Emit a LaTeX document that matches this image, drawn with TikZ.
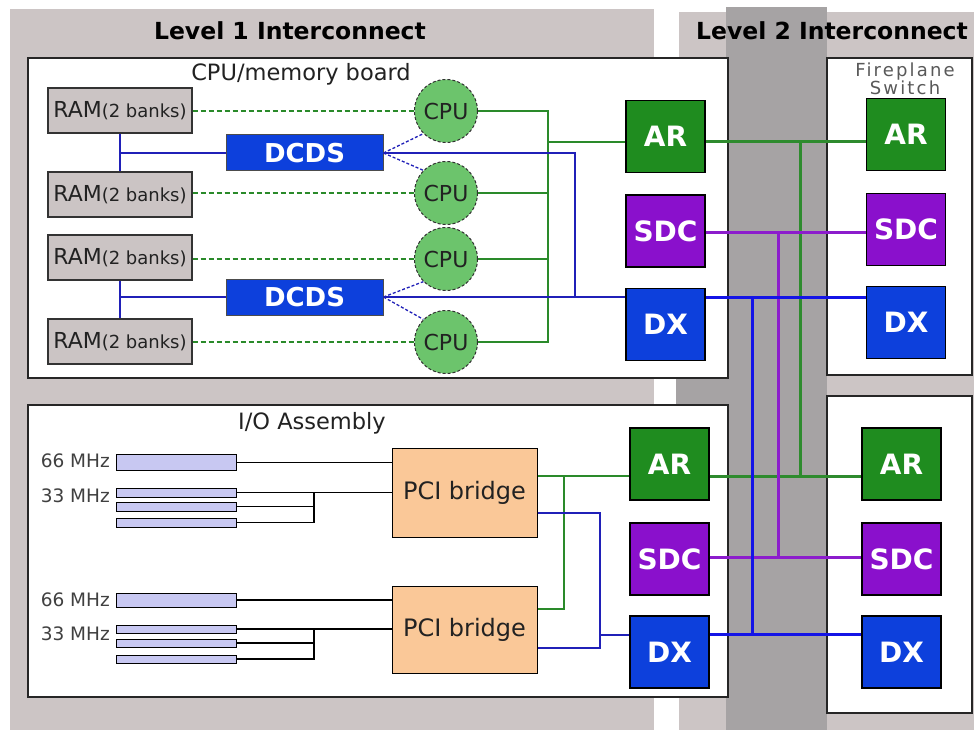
\documentclass[tikz,border=0pt]{standalone}
\usepackage{fontspec}
\setmainfont{DejaVu Sans}
\newfontfamily\spacedfont[LetterSpace=12]{DejaVu Sans}
\newcommand\fsz[1]{\fontsize{#1}{#1}\selectfont}
\definecolor{bglight}{HTML}{CCC5C5}
\definecolor{bgdark}{HTML}{A6A3A4}
\definecolor{argreen}{HTML}{1F8C1F}
\definecolor{sdcpurple}{HTML}{8A10CC}
\definecolor{dxblue}{HTML}{0D40DC}
\definecolor{ramgrey}{HTML}{CBC4C4}
\definecolor{cpugreen}{HTML}{6CC46C}
\definecolor{slotblue}{HTML}{C8C8F2}
\definecolor{pcipeach}{HTML}{FAC898}
\definecolor{lgreen}{HTML}{2A8A2A}
\definecolor{lblue}{HTML}{2020B8}
\definecolor{tgreen}{HTML}{2E8B2E}
\definecolor{tpurple}{HTML}{8C1CCC}
\definecolor{tblue}{HTML}{1414E6}
\definecolor{txtgrey}{HTML}{222222}
\begin{document}
\begin{tikzpicture}[x=1pt,y=-1pt,
  unitbox/.style={draw=black, line width=1.2pt, minimum width=79pt, minimum height=72pt, inner sep=0pt, text=white, font=\bfseries\fsz{28}},
  arbox/.style={unitbox, fill=argreen},
  sdcbox/.style={unitbox, fill=sdcpurple},
  dxbox/.style={unitbox, fill=dxblue},
  rambox/.style={draw=black!80, line width=1.2pt, fill=ramgrey, minimum width=144pt, minimum height=45pt, inner sep=0pt, text=txtgrey, font=\fsz{22}},
  cpunode/.style={circle, draw=black!80, dash pattern=on 3pt off 2pt, line width=1pt, fill=cpugreen, minimum size=63pt, inner sep=0pt, text=txtgrey, font=\fsz{22}},
  dcdsbox/.style={draw=black!70, line width=1pt, fill=dxblue, minimum width=157pt, minimum height=36pt, inner sep=0pt, text=white, font=\bfseries\fsz{26}},
  slot/.style={draw=black, line width=1pt, fill=slotblue, minimum width=120pt, inner sep=0pt},
  pcibox/.style={draw=black, line width=1pt, fill=pcipeach, minimum width=145pt, inner sep=0pt, text=txtgrey, font=\fsz{24}},
  panel/.style={draw=black!85, line width=1.2pt, fill=white, inner sep=0pt},
  mhz/.style={anchor=east, text=black!75, font=\fsz{18.5}, inner sep=0pt},
  gline/.style={draw=lgreen, line width=1.3pt},
  bline/.style={draw=lblue, line width=1.3pt},
  kline/.style={draw=black, line width=1.3pt},
  tgline/.style={draw=tgreen, line width=3pt},
  tpline/.style={draw=tpurple, line width=3pt},
  tbline/.style={draw=tblue, line width=3pt}]
\useasboundingbox (0,0) rectangle (974,730);
\fill[white] (0,0) rectangle (974,730);
% backgrounds
\fill[bglight] (10,9) rectangle (654,730);
\fill[bglight] (679,12) rectangle (974,730);
\fill[bgdark] (676,58) rectangle (727,697);
\fill[bgdark] (726,7) rectangle (827,730);
\node[font=\bfseries\fsz{23.5}] (l1title) at (290,31) {Level 1 Interconnect};
\node[font=\bfseries\fsz{23.5}] (l2title) at (832,31) {Level 2 Interconnect};
% panels
\node[panel, minimum width=700pt, minimum height=320pt] (cpuboard) at (378,218) {};
\node[panel, minimum width=700pt, minimum height=292pt] (ioboard) at (378,551) {};
\node[panel, minimum width=145pt, minimum height=317pt] (sw1) at (899.5,216.5) {};
\node[panel, minimum width=145pt, minimum height=317pt] (sw2) at (899.5,554.5) {};
\node[font=\fsz{22.5}, text=txtgrey] (cpulbl) at (301,74) {CPU/memory board};
\node[font=\fsz{22.5}, text=txtgrey] (iolbl) at (312,423) {I/O Assembly};
\node[align=center, font=\spacedfont\fontsize{18}{16.5}\selectfont, text=black!65, inner sep=0pt] (swlbl) at (905,79) {Fireplane\\Switch};
% RAM
\node[rambox] (ram1) at (120,110.5) {RAM{\fsz{18}(2 banks)}};
\node[rambox] (ram2) at (120,194.5) {RAM{\fsz{18}(2 banks)}};
\node[rambox] (ram3) at (120,257.5) {RAM{\fsz{18}(2 banks)}};
\node[rambox] (ram4) at (120,341.5) {RAM{\fsz{18}(2 banks)}};
% DCDS
\node[dcdsbox] (dcds1) at (304.5,153) {DCDS};
\node[dcdsbox] (dcds2) at (304.5,297) {DCDS};
% CPUs
\node[cpunode] (cpu1) at (446,111) {CPU};
\node[cpunode] (cpu2) at (446,193) {CPU};
\node[cpunode] (cpu3) at (446,259) {CPU};
\node[cpunode] (cpu4) at (446,342) {CPU};
% L1 units top
\node[arbox] (ar1) at (665.5,136.5) {AR};
\node[sdcbox] (sdc1) at (665.5,231) {SDC};
\node[dxbox] (dx1) at (665.5,324.5) {DX};
% switch units top
\node[arbox] (ar2) at (906,134.5) {AR};
\node[sdcbox] (sdc2) at (906,229.5) {SDC};
\node[dxbox] (dx2) at (906,322.5) {DX};
% L1 units bottom
\node[arbox] (ar3) at (669.5,464) {AR};
\node[sdcbox] (sdc3) at (669.5,559) {SDC};
\node[dxbox] (dx3) at (669.5,652) {DX};
% switch units bottom
\node[arbox] (ar4) at (901.5,464) {AR};
\node[sdcbox] (sdc4) at (901.5,559) {SDC};
\node[dxbox] (dx4) at (901.5,652) {DX};
% slots
\node[slot, minimum height=16pt] (s1a) at (176,462.5) {};
\node[slot, minimum height=9pt] (s1b) at (176,492.5) {};
\node[slot, minimum height=9pt] (s1c) at (176,506.5) {};
\node[slot, minimum height=9pt] (s1d) at (176,522.5) {};
\node[slot, minimum height=14pt] (s2a) at (176,600) {};
\node[slot, minimum height=8pt] (s2b) at (176,629) {};
\node[slot, minimum height=8pt] (s2c) at (176,643) {};
\node[slot, minimum height=8pt] (s2d) at (176,659) {};
\node[mhz] (m1a) at (110,461) {66 MHz};
\node[mhz] (m1b) at (110,496) {33 MHz};
\node[mhz] (m2a) at (110,600) {66 MHz};
\node[mhz] (m2b) at (110,633.5) {33 MHz};
% PCI bridges
\node[pcibox, minimum height=89pt] (pci1) at (464.5,492.5) {PCI bridge};
\node[pcibox, minimum height=87pt] (pci2) at (464.5,629.5) {PCI bridge};
% ---- CPU board connections
\draw[gline, dash pattern=on 5pt off 3pt] (ram1.east |- cpu1) -- (cpu1.west);
\draw[gline, dash pattern=on 5pt off 3pt] (ram2.east |- cpu2) -- (cpu2.west);
\draw[gline, dash pattern=on 5pt off 3pt] (ram3.east |- cpu3) -- (cpu3.west);
\draw[gline, dash pattern=on 5pt off 3pt] (ram4.east |- cpu4) -- (cpu4.west);
\coordinate (gb1) at (548,111);
\coordinate (gb4) at (548,342);
\draw[gline] (cpu1.east) -- (gb1) -- (gb4) -- (cpu4.east);
\draw[gline] (cpu2.east) -- (gb1 |- cpu2);
\draw[gline] (cpu3.east) -- (gb1 |- cpu3);
\draw[gline] (gb1 |- 0,142) -- (ar1.west |- 0,142);
\draw[bline] (ram1.south) -- (ram2.north);
\draw[bline] (ram3.south) -- (ram4.north);
\draw[bline] (ram1.south |- dcds1) -- (dcds1.west);
\draw[bline] (ram3.south |- dcds2) -- (dcds2.west);
\draw[bline, densely dashed] (dcds1.east) -- (cpu1.south west);
\draw[bline, densely dashed] (dcds1.east) -- (cpu2.north west);
\draw[bline, densely dashed] (dcds2.east) -- (cpu3.south west);
\draw[bline, densely dashed] (dcds2.east) -- (cpu4.north west);
\coordinate (bb1) at (575,153);
\draw[bline] (dcds1.east) -- (bb1) -- (bb1 |- dcds2);
\draw[bline] (dcds2.east) -- (dx1.west |- dcds2);
% ---- I/O connections
\coordinate (k1) at (314,492.5);
\coordinate (k2) at (314,629);
\draw[kline] (s1a.east) -- (pci1.west |- s1a);
\draw[kline] (s1b.east) -- (pci1.west |- s1b);
\draw[kline] (s1c.east) -- (k1 |- s1c);
\draw[kline] (s1d.east) -- (k1 |- s1d) -- (k1);
\draw[kline] (s2a.east) -- (pci2.west |- s2a);
\draw[kline] (s2b.east) -- (pci2.west |- s2b);
\draw[kline] (s2c.east) -- (k2 |- s2c);
\draw[kline] (s2d.east) -- (k2 |- s2d) -- (k2);
\coordinate (gi) at (564,476);
\draw[gline] (pci1.east |- gi) -- (ar3.west |- gi);
\draw[gline] (gi) -- (564,609) -- (pci2.east |- 0,609);
\coordinate (bi) at (600,513);
\draw[bline] (pci1.east |- bi) -- (bi) -- (600,648) -- (pci2.east |- 0,648);
\draw[bline] (600,635) -- (dx3.west |- 0,635);
% ---- level 2 interconnect
\draw[tgline] (ar1.east |- 0,142) -- (ar2.west |- 0,142);
\draw[tgline] (ar3.east |- 0,476) -- (ar4.west |- 0,476);
\draw[tgline] (800,142) -- (800,476);
\draw[tpline] (sdc1.east |- 0,232) -- (sdc2.west |- 0,232);
\draw[tpline] (sdc3.east |- 0,557) -- (sdc4.west |- 0,557);
\draw[tpline] (778,232) -- (778,557);
\draw[tbline] (dx1.east |- 0,297) -- (dx2.west |- 0,297);
\draw[tbline] (dx3.east |- 0,634) -- (dx4.west |- 0,634);
\draw[tbline] (752,297) -- (752,634);
\end{tikzpicture}
\end{document}
